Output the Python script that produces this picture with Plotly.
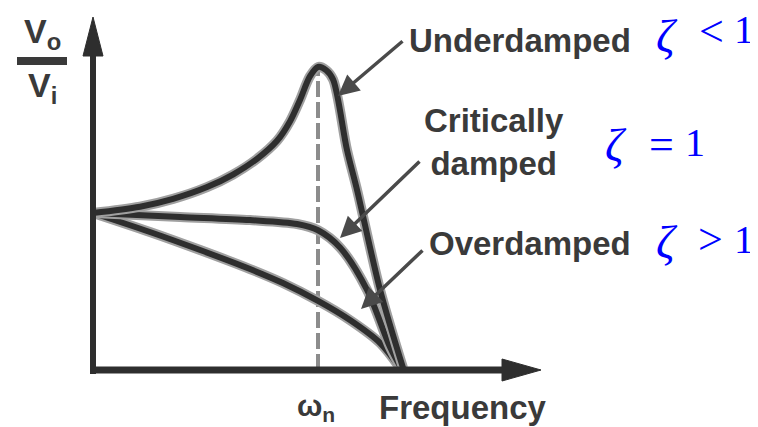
import plotly.graph_objects as go

# ---- data (frequency ratio w/wn, magnitude Vo/Vi) ----
under_x = [0.0, 0.209, 0.356, 0.507, 0.622, 0.729, 0.818, 0.876, 0.92, 0.964, 1.0, 1.036, 1.067, 1.129, 1.173, 1.276, 1.378]
under_y = [1.0, 1.04, 1.09, 1.165, 1.245, 1.345, 1.46, 1.585, 1.72, 1.87, 1.93, 1.91, 1.85, 1.40, 1.15, 0.51, 0.013]

crit_x = [0.0, 0.387, 0.698, 0.907, 1.0, 1.098, 1.218, 1.32, 1.369]
crit_y = [1.0, 0.975, 0.955, 0.93, 0.89, 0.78, 0.51, 0.146, 0.013]

over_x = [0.0, 0.253, 0.476, 0.698, 0.844, 1.0, 1.142, 1.276, 1.364]
over_y = [1.0, 0.879, 0.764, 0.643, 0.554, 0.44, 0.318, 0.172, 0.013]

wn = 1.0
peak = 1.93

labels = ["Underdamped", "Critically<br>damped", "Overdamped"]
zeta_sym = "ζ"
zeta_rel = ["&lt;", "=", "&gt;"]
zeta_val = "1"

# ---- geometry helpers (reference pixel -> data / paper) ----
OFF = 8                      # page body margin
W, H = 758 - OFF, 427 - OFF  # figure size
X0PX, PXX = 93, 225.0        # reference pixel of x=0, pixels per x-unit
Y0PX, PXY = 370, 157.0       # reference pixel of y=0, pixels per y-unit


def dx(px):
    return (px - X0PX) / PXX


def dy(py):
    return (Y0PX - py) / PXY


def fx(px):
    return (px - OFF) / W


def fy(py):
    return 1 - (py - OFF) / H


xr = [dx(OFF), dx(OFF + W)]
yr = [dy(OFF + H), dy(OFF)]

fig = go.Figure()

dark = "#2e2e2e"
halo = "#a0a0a0"

# dashed line at wn
fig.add_trace(go.Scatter(x=[wn, wn], y=[0, peak], mode="lines",
                         line=dict(color="#8c8c8c", width=4, dash="16px,5px"),
                         hoverinfo="skip", showlegend=False))

for xs, ys in [(over_x, over_y), (crit_x, crit_y), (under_x, under_y)]:
    fig.add_trace(go.Scatter(x=xs, y=ys, mode="lines",
                             line=dict(color=halo, width=10, shape="spline", smoothing=0.9),
                             hoverinfo="skip", showlegend=False))
    fig.add_trace(go.Scatter(x=xs, y=ys, mode="lines",
                             line=dict(color=dark, width=6, shape="spline", smoothing=0.9),
                             hoverinfo="skip", showlegend=False))

shapes = []
# axes lines
shapes.append(dict(type="line", xref="x", yref="y", x0=dx(93), y0=dy(374), x1=dx(93), y1=dy(50),
                   line=dict(color=dark, width=6)))
shapes.append(dict(type="line", xref="x", yref="y", x0=dx(90), y0=dy(370), x1=dx(508), y1=dy(370),
                   line=dict(color=dark, width=7)))


def tri(pts):
    return "M " + " L ".join(f"{dx(a)},{dy(b)}" for a, b in pts) + " Z"


shapes.append(dict(type="path", xref="x", yref="y", path=tri([(93, 17), (83, 56), (103, 56)]),
                   fillcolor=dark, line=dict(color=dark, width=1)))
shapes.append(dict(type="path", xref="x", yref="y", path=tri([(541, 370), (502, 359), (502, 381)]),
                   fillcolor=dark, line=dict(color=dark, width=1)))
# fraction bar
shapes.append(dict(type="line", xref="paper", yref="paper", x0=fx(17), x1=fx(67),
                   y0=fy(61), y1=fy(61), line=dict(color="#3a3a3a", width=8)))

annotations = []


def txt(text, px, py, size=33, color="#3a3a3a", family="Liberation Sans, Arial, sans-serif"):
    annotations.append(dict(text=text, xref="paper", yref="paper", x=fx(px), y=fy(py),
                            xanchor="center", yanchor="middle", showarrow=False,
                            font=dict(family=family, size=size, color=color)))


def arrow(hx, hy, tx, ty):
    annotations.append(dict(text="", x=dx(hx), y=dy(hy), ax=dx(tx), ay=dy(ty), xref="x", yref="y",
                            axref="x", ayref="y", showarrow=True, arrowhead=2, arrowsize=1.2,
                            arrowwidth=3.5, arrowcolor="#4a4a4a"))


txt("<b>" + labels[0] + "</b>", 520, 41)
txt("<b>" + labels[1] + "</b>", 494, 142)
txt("<b>" + labels[2] + "</b>", 530, 243)
txt("<b>Frequency</b>", 463, 407)
txt("<b>ω<sub>n</sub></b>", 316, 407, size=30)
txt("<b>V<sub>o</sub></b>", 42, 33, size=34)
txt("<b>V<sub>i</sub></b>", 42, 88, size=34)

serif = "Liberation Serif, Times New Roman, serif"
blue = "#0000ff"
# zeta symbol, relation sign and value, placed separately
for (zx, zy), (rx, ry), (vx, vy), rel in [((667, 36), (711, 32), (744, 30), zeta_rel[0]),
                                           ((616, 146), (661, 144), (695, 143), zeta_rel[1]),
                                           ((667, 242), (710, 240), (744, 240), zeta_rel[2])]:
    txt(f"<i>{zeta_sym}</i>", zx, zy, size=46, color=blue, family=serif)
    txt(rel, rx, ry, size=44, color=blue, family=serif)
    txt(zeta_val, vx, vy, size=40, color=blue, family=serif)

arrow(338, 96, 404, 40)
arrow(340, 238, 421, 160)
arrow(361, 309, 424, 249)

fig.update_layout(width=W, height=H, margin=dict(l=0, r=0, t=0, b=0),
                  paper_bgcolor="white", plot_bgcolor="white",
                  xaxis=dict(range=xr, visible=False, fixedrange=True),
                  yaxis=dict(range=yr, visible=False, fixedrange=True),
                  shapes=shapes, annotations=annotations, showlegend=False)

fig.write_html("out.html")
